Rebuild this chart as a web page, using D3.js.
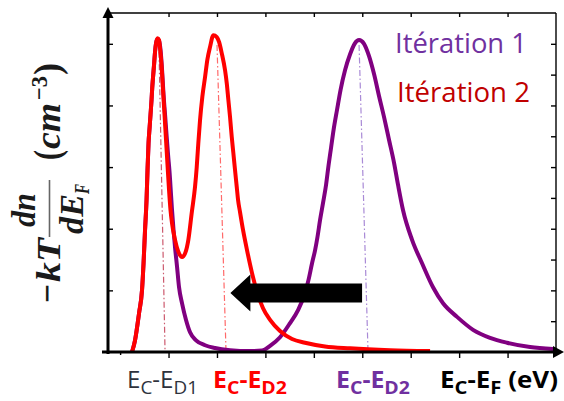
<!DOCTYPE html>
<html><head><meta charset="utf-8">
<script src="https://cdn.jsdelivr.net/npm/d3@7"></script>
<style>body{margin:0;background:#fff}svg{display:block}</style>
</head><body>
<svg id="c" width="564" height="401"></svg>
<script>
// ---------- data ----------
const xDomain = [-0.125, 0.8];
const yDomain = [0, 5.5];
const xTicks = [0, 0.1, 0.2, 0.3, 0.4, 0.5, 0.6, 0.7];
const xMinorTicks = [-0.1];
const yMajorTicks = [1, 2, 3, 4, 5];
const yMinorTicks = [0.5, 1, 1.5, 2, 2.5, 3, 3.5, 4, 4.5, 5];

const seriesNames = ["Itération 1", "Itération 2"];

const iter1X = [-0.0754,-0.0692,-0.0609,-0.0547,-0.0516,-0.0485,-0.0454,-0.0434,-0.0413,-0.0392,-0.0372,-0.0351,-0.0337,-0.0320,-0.0299,-0.0279,-0.0258,-0.0227,-0.0196,-0.0165,-0.0134,-0.0103,-0.0072,-0.0041,-0.0010,0.0021,0.0041,0.0072,0.0103,0.0134,0.0176,0.0217,0.0279,0.0361,0.0444,0.0568,0.0754,0.0960,0.1270,0.1683,0.1931,0.2096,0.2302,0.2509,0.2674,0.2818,0.2890,0.2963,0.3025,0.3076,0.3128,0.3190,0.3252,0.3304,0.3355,0.3407,0.3479,0.3551,0.3644,0.3748,0.3841,0.3934,0.4037,0.4140,0.4243,0.4347,0.4450,0.4553,0.4656,0.4739,0.4842,0.5028,0.5234,0.5461,0.5668,0.5957,0.6287,0.6638,0.6989,0.7464,0.7939];
const iter1Y = [0,0.19,0.63,1.01,1.44,1.98,2.47,2.95,3.39,3.63,3.85,4.09,4.28,4.46,4.66,4.87,5.01,5.08,5.05,4.90,4.58,4.17,3.85,3.52,3.20,2.92,2.68,2.30,1.98,1.70,1.38,1.05,0.79,0.52,0.32,0.19,0.11,0.065,0.03,0.015,0.025,0.10,0.24,0.47,0.68,0.96,1.17,1.44,1.65,1.87,2.14,2.42,2.71,3.03,3.31,3.60,3.93,4.25,4.57,4.83,5.00,5.06,5.00,4.80,4.51,4.15,3.81,3.44,3.07,2.71,2.30,1.82,1.44,1.05,0.79,0.57,0.36,0.23,0.15,0.08,0.05];

const iter2X = [-0.0754,-0.0692,-0.0609,-0.0547,-0.0516,-0.0485,-0.0454,-0.0434,-0.0413,-0.0392,-0.0372,-0.0351,-0.0337,-0.0320,-0.0299,-0.0279,-0.0258,-0.0227,-0.0196,-0.0176,-0.0145,-0.0114,-0.0083,-0.0052,-0.0021,0.0010,0.0041,0.0072,0.0134,0.0196,0.0279,0.0351,0.0409,0.0479,0.0547,0.0582,0.0615,0.0650,0.0698,0.0754,0.0801,0.0857,0.0926,0.0996,0.1043,0.1098,0.1167,0.1202,0.1235,0.1270,0.1305,0.1338,0.1373,0.1408,0.1435,0.1476,0.1538,0.1621,0.1724,0.1828,0.1951,0.2096,0.2302,0.2550,0.2818,0.3231,0.3748,0.4574,0.5400];
const iter2Y = [0,0.19,0.63,1.01,1.44,1.98,2.47,2.95,3.39,3.63,3.85,4.09,4.28,4.46,4.66,4.87,5.01,5.09,5.06,4.93,4.66,4.25,3.85,3.44,3.03,2.63,2.30,2.09,1.82,1.64,1.54,1.62,1.82,2.26,2.68,3.00,3.39,3.76,4.14,4.46,4.74,4.95,5.14,5.11,5.03,4.85,4.57,4.36,4.09,3.81,3.49,3.23,2.95,2.68,2.47,2.27,1.98,1.65,1.28,0.97,0.71,0.52,0.34,0.21,0.15,0.09,0.06,0.03,0.015];

// donor level guide lines (top point -> bottom point)
const levelTopX = [-0.0196, 0.1001, 0.3934];
const levelTopY = [4.87, 4.98, 4.98];
const levelBottomX = [-0.0072, 0.1187, 0.4119];

// shift arrow (from -> to), at height
const arrowFromX = 0.3996, arrowToX = 0.1277, arrowAtY = 0.957;

// bottom labels: [text, isSubscript]
const bottomLabels = [
  [["E",0],["C",1],["-E",0],["D1",1]],
  [["E",0],["C",1],["-E",0],["D2",1]],
  [["E",0],["C",1],["-E",0],["D2",1]],
  [["E",0],["C",1],["-E",0],["F",1],[" (eV)",0]]
];

// ---------- layout / style ----------
const colIter1 = "#800080", colIter2 = "#ff0000";
const levelColors = ["#cc5a6e", "#ff6a6a", "#a98ad6"];
const labelColors = ["#2e323c", "#ff0000", "#7030a0", "#000000"];
const labelWeights = [400, 700, 700, 700];
const labelLeft = [127, 213, 336, 440];
const labelWidth = [71, 74, 74, 118];

const svg = d3.select("#c");
const x = d3.scaleLinear().domain(xDomain).range([108, 556]);
const y = d3.scaleLinear().domain(yDomain).range([352, 13]);

// guide lines
levelTopX.forEach((tx, i) => {
  svg.append("line")
    .attr("x1", x(tx)).attr("y1", y(levelTopY[i]))
    .attr("x2", x(levelBottomX[i])).attr("y2", y(0))
    .attr("stroke", levelColors[i]).attr("stroke-width", 1.2)
    .attr("stroke-dasharray", "6 2.5 1.5 2.5");
});

const line = d3.line().x(d => x(d[0])).y(d => y(d[1])).curve(d3.curveMonotoneX);
svg.append("path").datum(d3.zip(iter1X, iter1Y)).attr("d", line)
  .attr("fill", "none").attr("stroke", colIter1).attr("stroke-width", 4).attr("stroke-linejoin", "round");
svg.append("path").datum(d3.zip(iter2X, iter2Y)).attr("d", line)
  .attr("fill", "none").attr("stroke", colIter2).attr("stroke-width", 4).attr("stroke-linejoin", "round");

// arrow
{
  const tip = x(arrowToX), end = x(arrowFromX), cy = y(arrowAtY);
  const hb = tip + 20, sh = 9.5, hh = 18.5;
  svg.append("path")
    .attr("d", `M${tip},${cy} L${hb},${cy - hh} L${hb},${cy - sh} L${end},${cy - sh} L${end},${cy + sh} L${hb},${cy + sh} L${hb},${cy + hh} Z`)
    .attr("fill", "#000");
}

// axes ticks
function styleAxis(g) {
  g.select(".domain").remove();
  g.selectAll(".tick line").attr("stroke", "#000").attr("stroke-width", 1.4);
  g.selectAll(".tick text").remove();
}
svg.append("g").attr("transform", "translate(0,352)")
  .call(d3.axisBottom(x).tickValues(xTicks).tickSize(6).tickFormat("")).call(styleAxis);
svg.append("g").attr("transform", "translate(0,352)")
  .call(d3.axisBottom(x).tickValues(xMinorTicks).tickSize(3).tickFormat("")).call(styleAxis);
svg.append("g").attr("transform", "translate(0,13)")
  .call(d3.axisBottom(x).tickValues(xTicks).tickSize(4).tickFormat("")).call(styleAxis);
svg.append("g").attr("transform", "translate(108,0)")
  .call(d3.axisRight(y).tickValues(yMajorTicks).tickSize(5).tickFormat("")).call(styleAxis);
svg.append("g").attr("transform", "translate(556,0)")
  .call(d3.axisLeft(y).tickValues(yMinorTicks).tickSize(5).tickFormat("")).call(styleAxis);

// frame
svg.append("line").attr("x1", x(xDomain[0])).attr("x2", x(xDomain[1])).attr("y1", y(yDomain[1])).attr("y2", y(yDomain[1]))
  .attr("stroke", "#000").attr("stroke-width", 1.4);
svg.append("line").attr("x1", x(xDomain[1])).attr("x2", x(xDomain[1])).attr("y1", y(yDomain[1])).attr("y2", y(0))
  .attr("stroke", "#000").attr("stroke-width", 1.4);
// main axes (thick, with arrows)
svg.append("line").attr("x1", 108).attr("x2", 108).attr("y1", 354).attr("y2", 16).attr("stroke", "#000").attr("stroke-width", 3);
svg.append("path").attr("d", "M108,7 L102.5,18 L113.5,18 Z").attr("fill", "#000");
svg.append("line").attr("x1", 102).attr("x2", 555).attr("y1", 352).attr("y2", 352).attr("stroke", "#000").attr("stroke-width", 3);
svg.append("path").attr("d", "M564,352 L553,346 L553,358 Z").attr("fill", "#000");

// legend
const legendCols = ["#7030a0", "#c00000"];
const legendPos = [[395, 53, 132], [397, 102, 133]];
function fitH(t, left, width) {
  const b = t.node().getBBox();
  const s = width / b.width;
  t.attr("transform", `translate(${left},0) scale(${s},1) translate(${-b.x},0)`);
}
seriesNames.forEach((n, i) => {
  const t = svg.append("text").attr("x", 0).attr("y", legendPos[i][1])
    .style("font-family", "'Open Sans', sans-serif").style("font-size", "28px")
    .attr("fill", legendCols[i]).text(n);
  fitH(t, legendPos[i][0], legendPos[i][2]);
});

// bottom labels
bottomLabels.forEach((parts, i) => {
  const t = svg.append("text").attr("x", 0).attr("y", 388)
    .style("font-family", "'Open Sans', sans-serif").style("font-weight", labelWeights[i])
    .attr("fill", labelColors[i]);
  let shifted = false;
  parts.forEach(([s, sub]) => {
    const ts = t.append("tspan").text(s);
    if (sub) { ts.style("font-size", "18px"); ts.attr("dy", shifted ? 0 : 6); shifted = true; }
    else { ts.style("font-size", "23px"); ts.attr("dy", shifted ? -6 : 0); shifted = false; }
  });
  fitH(t, labelLeft[i], labelWidth[i]);
});

// y-axis label (rotated math)
{
  const g = svg.append("g").attr("transform", "translate(60,303) rotate(-90)")
    .attr("fill", "#1a1a1a")
    .style("font-family", "'Liberation Serif', 'Times New Roman', serif")
    .style("font-weight", "bold").style("font-style", "italic");
  function piece(txt, tx, ty, size, len, upright) {
    const t = g.append("text").attr("x", tx).attr("y", ty).style("font-size", size + "px").text(txt);
    if (upright) t.style("font-style", "normal");
    if (len) t.attr("textLength", len).attr("lengthAdjust", "spacingAndGlyphs");
    return t;
  }
  piece("−", 0, -1, 36, 19, true);
  piece("kT", 21, 0, 34, 44);
  g.append("line").attr("x1", 66).attr("x2", 123).attr("y1", -10.5).attr("y2", -10.5)
    .attr("stroke", "#666").attr("stroke-width", 1.6);
  piece("dn", 76, -25, 34, 34);
  piece("dE", 69, 23, 34, 40);
  piece("F", 109, 29, 22, 10);
  piece("(", 143, 0, 38, 10, true);
  piece("cm", 154, 0, 36, 46);
  piece("−3", 203, -13, 24, 24, true);
  piece(")", 228, 0, 38, 12, true);
}
</script>
</body></html>
